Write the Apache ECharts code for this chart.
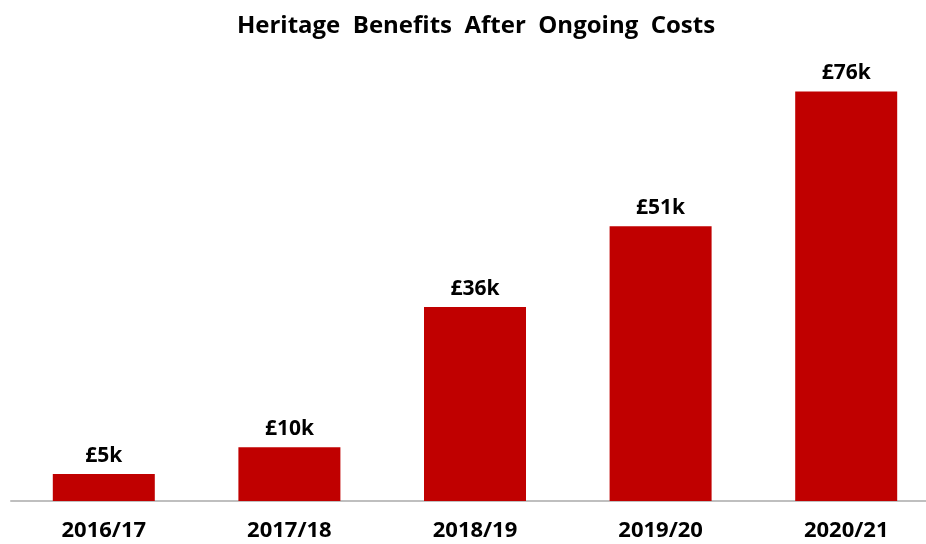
<!DOCTYPE html>
<html>
<head>
<meta charset="utf-8">
<script src="https://cdn.jsdelivr.net/npm/echarts@6/dist/echarts.min.js"></script>
<style>
  html, body { margin: 0; padding: 0; background: #fff; overflow: hidden; }
  #chart { width: 940px; height: 544px; }
</style>
</head>
<body>
<div id="chart"></div>
<script>
// Financial years and net heritage benefit (£ thousands)
const years = ['2016/17', '2017/18', '2018/19', '2019/20', '2020/21'];
const benefits = [5, 10, 36, 51, 76];

const FONT = '"Open Sans", "Liberation Sans", sans-serif';

const chart = echarts.init(document.getElementById('chart'));
chart.setOption({
  animation: false,
  backgroundColor: '#ffffff',
  title: {
    text: 'Heritage  Benefits  After  Ongoing  Costs',
    left: 471,
    top: 9,
    textAlign: 'center',
    textStyle: { fontFamily: FONT, fontSize: 24, fontWeight: 'bold', color: '#000' }
  },
  grid: { left: 11, width: 928, top: 70, bottom: 43, containLabel: false },
  xAxis: {
    type: 'category',
    data: years,
    axisLine: { lineStyle: { color: '#bfbfbf', width: 2 } },
    axisTick: { show: false },
    axisLabel: {
      margin: 19,
      fontFamily: FONT, fontSize: 22, fontWeight: 'bold', color: '#000'
    }
  },
  yAxis: {
    type: 'value',
    min: 0,
    max: 80,
    show: false,
    splitLine: { show: false }
  },
  series: [{
    type: 'bar',
    data: benefits,
    barWidth: 102,
    itemStyle: { color: '#c00000' },
    label: {
      show: true,
      position: 'top',
      distance: 8,
      formatter: p => '£' + p.value + 'k',
      fontFamily: FONT, fontSize: 21, fontWeight: 'bold', color: '#000'
    }
  }]
});
</script>
</body>
</html>
